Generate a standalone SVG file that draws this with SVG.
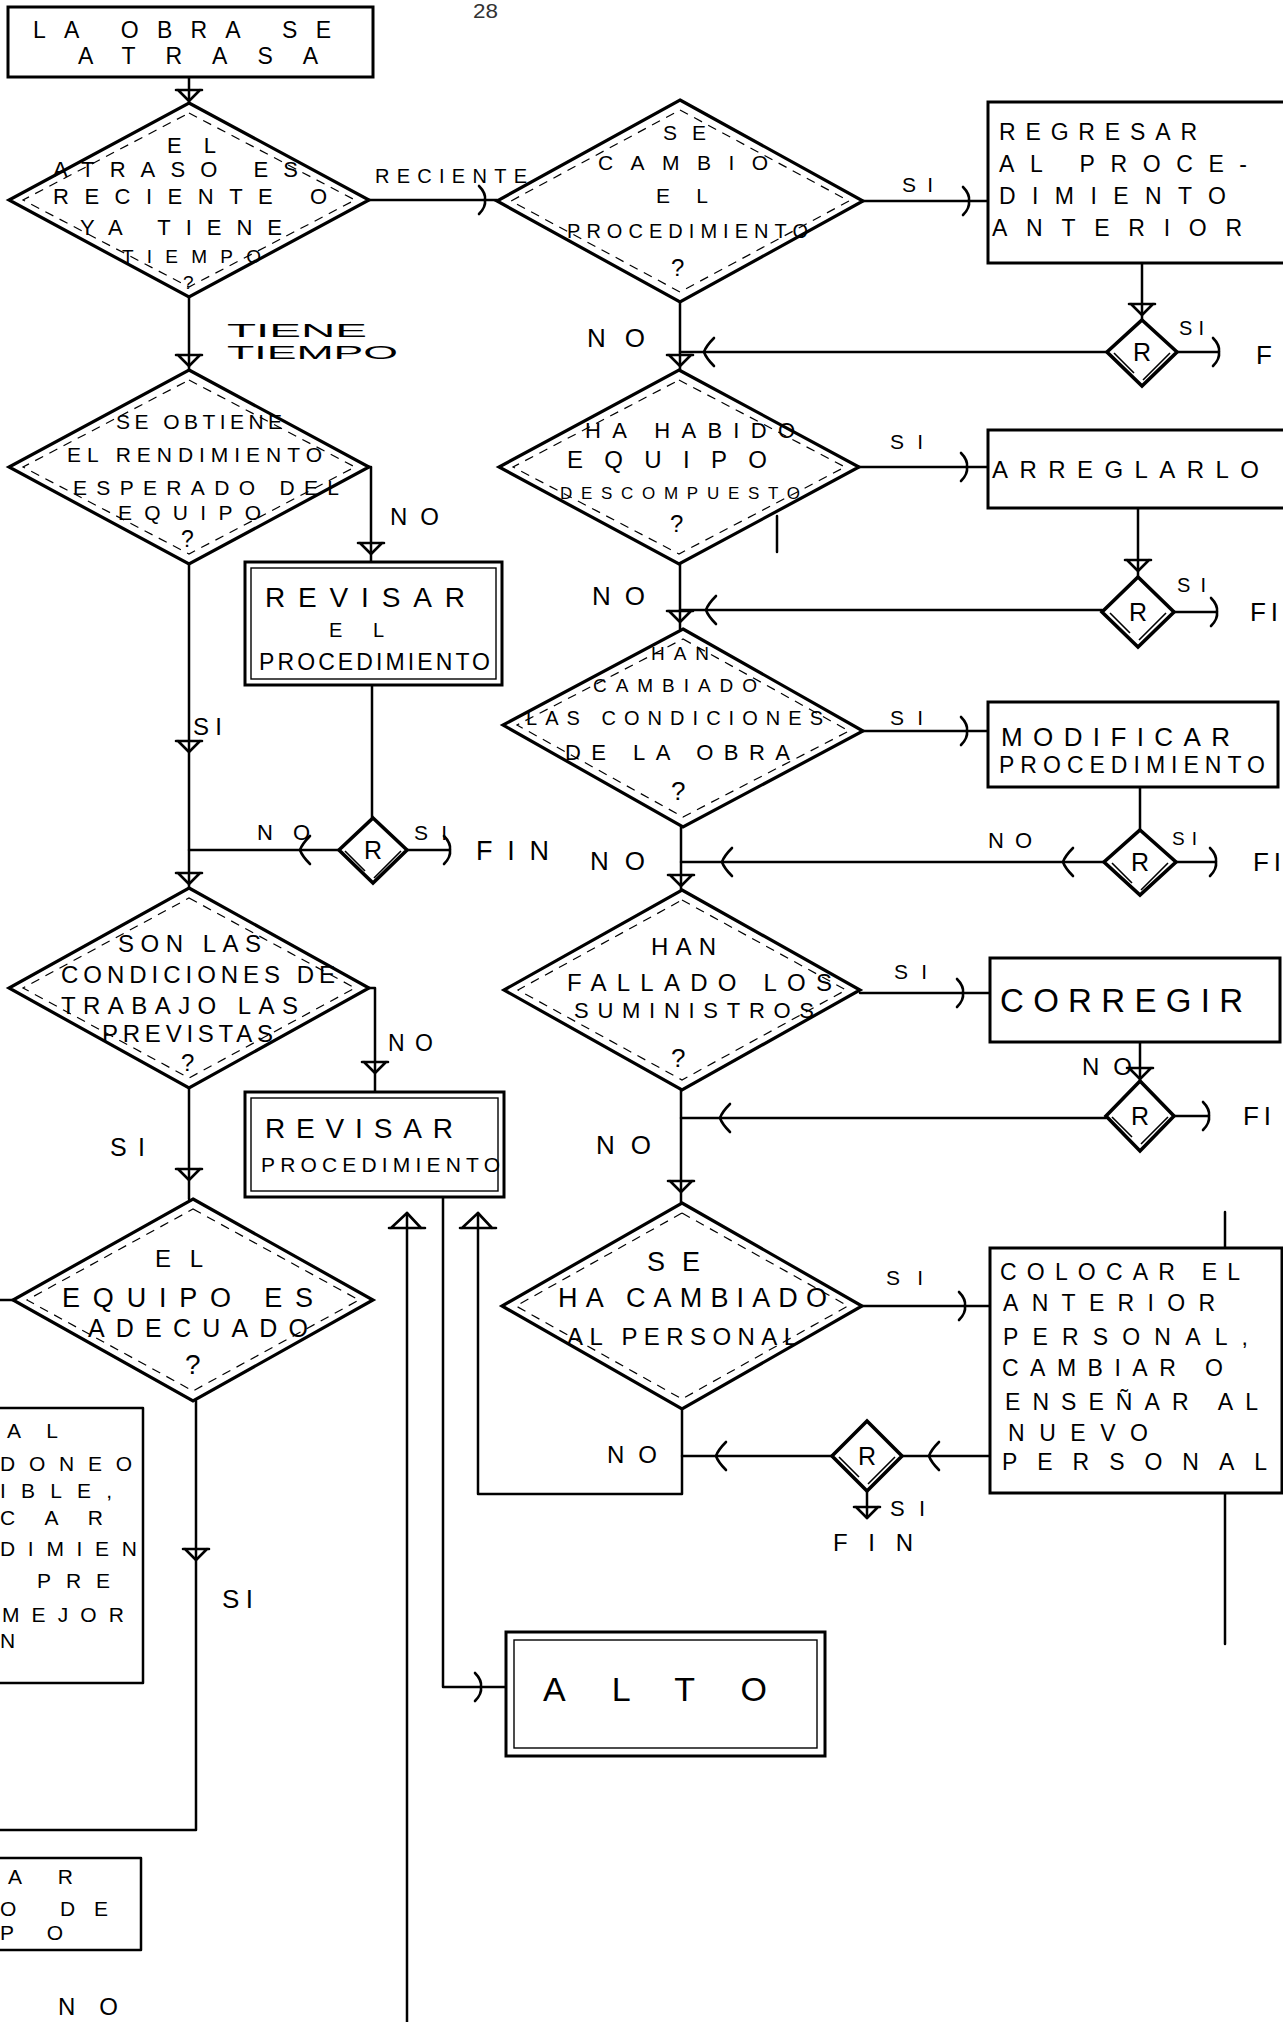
<svg xmlns="http://www.w3.org/2000/svg" width="1283" height="2022" viewBox="0 0 1283 2022">
  <style>
    .ln { stroke:#000; stroke-width:2.5; fill:none; stroke-linecap:round; stroke-linejoin:round; }
    .ah { stroke:#000; stroke-width:2.6; fill:none; stroke-linecap:round; stroke-linejoin:round; }
    .dia { stroke:#000; stroke-width:3.2; fill:#fff; stroke-linejoin:miter; }
    .dia-in { stroke:#000; stroke-width:1.2; fill:none; stroke-dasharray:9 7; }
    .rd { stroke:#000; stroke-width:3.6; fill:#fff; }
    .rd-in { stroke:#000; stroke-width:1.6; fill:none; }
    .box { stroke:#000; stroke-width:3; fill:#fff; }
    .box-in { stroke:#000; stroke-width:1.4; fill:none; }
    .t { font-family:"Liberation Sans", Arial, sans-serif; fill:#000; }
    .num { font-family:"Liberation Sans", Arial, sans-serif; fill:#333; }
  </style>
  <defs>
    <path id="ah-d" class="ah" d="M-13,-11 L13,-11 M-11,-11 L0,0 L11,-11"/>
    <path id="ah-u" class="ah" d="M-18,15 L18,15 M-16,15 L0,0 L14,15"/>
    <path id="ah-r" class="ah" d="M-5,-14 Q2,-7 1,0 Q2,7 -5,14"/>
    <path id="ah-l" class="ah" d="M10,-14 Q2,-6 0,0 Q2,6 10,14"/>
    <!-- second stroke along the lower edges of the small R diamonds -->
    <path id="rd-edge" class="rd-in" d="M28,1 L1,28 M-28,1 L-8,21"/>
  </defs>
  <rect width="1283" height="2022" fill="#fff"/>

  <text class="num" x="473" y="18" font-size="20" textLength="25" lengthAdjust="spacingAndGlyphs">28</text>

  <!-- connectors -->
  <g id="connectors">
    <path class="ln" d="M189,77 V103"/>
    <use href="#ah-d" x="189" y="101"/>
    <path class="ln" d="M369,200 H497"/>
    <use href="#ah-r" x="484" y="200"/>
    <path class="ln" d="M189,297 V370"/>
    <use href="#ah-d" x="189" y="366"/>
    <path class="ln" d="M369,467 H371 V562"/>
    <use href="#ah-d" x="371" y="554"/>
    <path class="ln" d="M372,685 V818"/>
    <path class="ln" d="M339,850 H189"/>
    <use href="#ah-l" x="300" y="850"/>
    <path class="ln" d="M407,850 H449"/>
    <use href="#ah-r" x="449" y="850"/>
    <path class="ln" d="M189,564 V888"/>
    <use href="#ah-d" x="189" y="752"/>
    <use href="#ah-d" x="189" y="884"/>
    <path class="ln" d="M369,988 H375 V1092"/>
    <use href="#ah-d" x="375" y="1073"/>
    <path class="ln" d="M189,1088 V1199"/>
    <use href="#ah-d" x="189" y="1180"/>
    <path class="ln" d="M196,1401 V1830 H0"/>
    <use href="#ah-d" x="196" y="1560"/>
    <path class="ln" d="M13,1300 H0"/>

    <path class="ln" d="M680,302 V370"/>
    <use href="#ah-d" x="680" y="366"/>
    <path class="ln" d="M1107,352 H680"/>
    <use href="#ah-l" x="704" y="352"/>
    <path class="ln" d="M863,201 H988"/>
    <use href="#ah-r" x="968" y="201"/>
    <path class="ln" d="M1142,263 V320"/>
    <use href="#ah-d" x="1142" y="315"/>
    <path class="ln" d="M1177,352 H1218"/>
    <use href="#ah-r" x="1218" y="352"/>

    <path class="ln" d="M859,467 H988"/>
    <use href="#ah-r" x="966" y="467"/>
    <path class="ln" d="M1138,508 V577"/>
    <use href="#ah-d" x="1138" y="571"/>
    <path class="ln" d="M1174,612 H1216"/>
    <use href="#ah-r" x="1216" y="612"/>
    <path class="ln" d="M1102,610 H680"/>
    <use href="#ah-l" x="706" y="610"/>
    <path class="ln" d="M680,564 V629"/>
    <use href="#ah-d" x="680" y="622"/>

    <path class="ln" d="M863,731 H988"/>
    <use href="#ah-r" x="966" y="731"/>
    <path class="ln" d="M1140,787 V830"/>
    <path class="ln" d="M1176,862 H1215"/>
    <use href="#ah-r" x="1215" y="862"/>
    <path class="ln" d="M1104,862 H681"/>
    <use href="#ah-l" x="1063" y="862"/>
    <use href="#ah-l" x="722" y="862"/>
    <path class="ln" d="M681,827 V890"/>
    <use href="#ah-d" x="681" y="886"/>

    <path class="ln" d="M860,993 H990"/>
    <use href="#ah-r" x="962" y="993"/>
    <path class="ln" d="M1140,1042 V1081"/>
    <use href="#ah-d" x="1140" y="1079"/>
    <path class="ln" d="M1174,1116 H1208"/>
    <use href="#ah-r" x="1208" y="1116"/>
    <path class="ln" d="M1106,1118 H681"/>
    <use href="#ah-l" x="720" y="1118"/>
    <path class="ln" d="M681,1090 V1203"/>
    <use href="#ah-d" x="681" y="1192"/>

    <path class="ln" d="M862,1306 H990"/>
    <use href="#ah-r" x="964" y="1306"/>
    <path class="ln" d="M990,1456 H902"/>
    <use href="#ah-l" x="929" y="1456"/>
    <path class="ln" d="M867,1491 V1518"/>
    <use href="#ah-d" x="867" y="1518"/>
    <path class="ln" d="M832,1456 H682"/>
    <use href="#ah-l" x="716" y="1456"/>
    <path class="ln" d="M682,1409 V1494 H478 V1213"/>
    <use href="#ah-u" x="478" y="1213"/>
    <path class="ln" d="M407,2022 V1213"/>
    <use href="#ah-u" x="407" y="1213"/>
    <path class="ln" d="M443,1197 V1687 H506"/>
    <use href="#ah-r" x="480" y="1687"/>

    <path class="ln" d="M1225,1212 V1644"/>
    <path class="ln" d="M777,516 V552"/>
  </g>

  <!-- left column -->
  <g id="n-start">
    <rect class="box" x="8" y="7" width="365" height="70"/>
    <text class="t" x="33" y="38" font-size="23" textLength="298" lengthAdjust="spacing">LA OBRA SE</text>
    <text class="t" x="78" y="64" font-size="23" textLength="240" lengthAdjust="spacing">ATRASA</text>
  </g>

  <g id="n-atraso">
    <polygon class="dia" points="189,103 369,200 189,297 9,200"/>
    <polygon class="dia-in" points="189,113 355,200 189,287 23,200"/>
    <text class="t" x="167" y="153" font-size="22" textLength="49" lengthAdjust="spacing">EL</text>
    <text class="t" x="53" y="177" font-size="22" textLength="245" lengthAdjust="spacing">ATRASO ES</text>
    <text class="t" x="53" y="204" font-size="22" textLength="274" lengthAdjust="spacing">RECIENTE O</text>
    <text class="t" x="80" y="235" font-size="22" textLength="202" lengthAdjust="spacing">YA TIENE</text>
    <text class="t" x="122" y="263" font-size="19" textLength="139" lengthAdjust="spacing">TIEMPO</text>
    <text class="t" x="183" y="289" font-size="19">?</text>
  </g>
  <text class="t" x="375" y="183" font-size="20" textLength="152" lengthAdjust="spacing">RECIENTE</text>
  <text class="t" x="227" y="337" font-size="19" textLength="140" lengthAdjust="spacingAndGlyphs">TIENE</text>
  <text class="t" x="227" y="359" font-size="19" textLength="171" lengthAdjust="spacingAndGlyphs">TIEMPO</text>

  <g id="n-rendimiento">
    <polygon class="dia" points="189,370 369,467 189,564 9,467"/>
    <polygon class="dia-in" points="189,380 355,467 189,554 23,467"/>
    <text class="t" x="116" y="429" font-size="21" textLength="166" lengthAdjust="spacing">SE OBTIENE</text>
    <text class="t" x="67" y="462" font-size="21" textLength="255" lengthAdjust="spacing">EL RENDIMIENTO</text>
    <text class="t" x="73" y="495" font-size="21" textLength="266" lengthAdjust="spacing">ESPERADO DEL</text>
    <text class="t" x="118" y="520" font-size="21" textLength="143" lengthAdjust="spacing">EQUIPO</text>
    <text class="t" x="181" y="547" font-size="23">?</text>
  </g>
  <text class="t" x="390" y="525" font-size="24" textLength="49" lengthAdjust="spacing">NO</text>

  <g id="n-revisar-1">
    <rect class="box" x="245" y="562" width="257" height="123"/>
    <rect class="box-in" x="251" y="568" width="245" height="111"/>
    <text class="t" x="265" y="607" font-size="28" textLength="200" lengthAdjust="spacing">REVISAR</text>
    <text class="t" x="329" y="637" font-size="20" textLength="55" lengthAdjust="spacing">EL</text>
    <text class="t" x="259" y="670" font-size="23" textLength="231" lengthAdjust="spacing">PROCEDIMIENTO</text>
  </g>

  <g id="n-r1">
    <polygon class="rd" points="373,818 407,850 373,883 339,850"/>
    <use href="#rd-edge" x="373" y="850"/>
    <text class="t" x="373" y="859" font-size="25" text-anchor="middle">R</text>
  </g>
  <text class="t" x="257" y="840" font-size="22" textLength="53" lengthAdjust="spacing">NO</text>
  <text class="t" x="414" y="840" font-size="21" textLength="33" lengthAdjust="spacing">SI</text>
  <text class="t" x="476" y="860" font-size="27" textLength="73" lengthAdjust="spacing">FIN</text>
  <text class="t" x="193" y="735" font-size="24" textLength="29" lengthAdjust="spacing">SI</text>

  <g id="n-condiciones">
    <polygon class="dia" points="189,888 369,988 189,1088 9,988"/>
    <polygon class="dia-in" points="189,898 355,988 189,1078 23,988"/>
    <text class="t" x="118" y="952" font-size="24" textLength="143" lengthAdjust="spacing">SON LAS</text>
    <text class="t" x="61" y="983" font-size="24" textLength="274" lengthAdjust="spacing">CONDICIONES DE</text>
    <text class="t" x="61" y="1014" font-size="24" textLength="237" lengthAdjust="spacing">TRABAJO LAS</text>
    <text class="t" x="102" y="1042" font-size="24" textLength="171" lengthAdjust="spacing">PREVISTAS</text>
    <text class="t" x="181" y="1071" font-size="24">?</text>
  </g>
  <text class="t" x="388" y="1051" font-size="23" textLength="45" lengthAdjust="spacing">NO</text>

  <g id="n-revisar-2">
    <rect class="box" x="245" y="1092" width="259" height="105"/>
    <rect class="box-in" x="251" y="1098" width="247" height="93"/>
    <text class="t" x="265" y="1138" font-size="28" textLength="188" lengthAdjust="spacing">REVISAR</text>
    <text class="t" x="261" y="1172" font-size="21" textLength="239" lengthAdjust="spacing">PROCEDIMIENTO</text>
  </g>
  <text class="t" x="110" y="1156" font-size="25" textLength="35" lengthAdjust="spacing">SI</text>

  <g id="n-equipo">
    <polygon class="dia" points="193,1199 373,1300 193,1401 13,1300"/>
    <polygon class="dia-in" points="193,1209 359,1300 193,1391 27,1300"/>
    <text class="t" x="155" y="1267" font-size="24" textLength="48" lengthAdjust="spacing">EL</text>
    <text class="t" x="62" y="1307" font-size="27" textLength="251" lengthAdjust="spacing">EQUIPO ES</text>
    <text class="t" x="88" y="1337" font-size="25" textLength="220" lengthAdjust="spacing">ADECUADO</text>
    <text class="t" x="185" y="1374" font-size="28">?</text>
  </g>
  <text class="t" x="222" y="1608" font-size="26" textLength="31" lengthAdjust="spacing">SI</text>

  <g id="n-left-a">
    <path class="ln" d="M-5,1408 H143 V1683 H-5"/>
    <text class="t" x="7" y="1438" font-size="21" textLength="51" lengthAdjust="spacing">AL</text>
    <text class="t" x="0" y="1471" font-size="21" textLength="132" lengthAdjust="spacing">DONEO</text>
    <text class="t" x="0" y="1498" font-size="21" textLength="112" lengthAdjust="spacing">IBLE,</text>
    <text class="t" x="0" y="1525" font-size="21" textLength="103" lengthAdjust="spacing">CAR</text>
    <text class="t" x="0" y="1556" font-size="21" textLength="137" lengthAdjust="spacing">DIMIEN</text>
    <text class="t" x="37" y="1588" font-size="21" textLength="73" lengthAdjust="spacing">PRE</text>
    <text class="t" x="2" y="1622" font-size="21" textLength="122" lengthAdjust="spacing">MEJOR</text>
    <text class="t" x="0" y="1648" font-size="21">N</text>
  </g>
  <g id="n-left-b">
    <path class="ln" d="M-5,1858 H141 V1950 H-5"/>
    <text class="t" x="8" y="1884" font-size="21" textLength="65" lengthAdjust="spacing">AR</text>
    <text class="t" x="0" y="1916" font-size="21" textLength="108" lengthAdjust="spacing">O DE</text>
    <text class="t" x="0" y="1940" font-size="21" textLength="63" lengthAdjust="spacing">PO</text>
  </g>
  <text class="t" x="58" y="2015" font-size="24" textLength="60" lengthAdjust="spacing">NO</text>

  <!-- middle column -->
  <g id="n-cambio">
    <polygon class="dia" points="680,100 863,201 680,302 497,201"/>
    <polygon class="dia-in" points="680,110 849,201 680,292 511,201"/>
    <text class="t" x="663" y="140" font-size="21" textLength="43" lengthAdjust="spacing">SE</text>
    <text class="t" x="598" y="170" font-size="21" textLength="170" lengthAdjust="spacing">CAMBIO</text>
    <text class="t" x="656" y="203" font-size="21" textLength="52" lengthAdjust="spacing">EL</text>
    <text class="t" x="567" y="238" font-size="20" textLength="241" lengthAdjust="spacing">PROCEDIMIENTO</text>
    <text class="t" x="671" y="276" font-size="24">?</text>
  </g>
  <text class="t" x="902" y="192" font-size="21" textLength="31" lengthAdjust="spacing">SI</text>
  <text class="t" x="587" y="347" font-size="26" textLength="58" lengthAdjust="spacing">NO</text>

  <g id="n-descompuesto">
    <polygon class="dia" points="679,370 859,467 679,564 499,467"/>
    <polygon class="dia-in" points="679,380 845,467 679,554 513,467"/>
    <text class="t" x="585" y="438" font-size="22" textLength="210" lengthAdjust="spacing">HA HABIDO</text>
    <text class="t" x="567" y="468" font-size="24" textLength="200" lengthAdjust="spacing">EQUIPO</text>
    <text class="t" x="560" y="499" font-size="17" textLength="240" lengthAdjust="spacing">DESCOMPUESTO</text>
    <text class="t" x="670" y="532" font-size="24">?</text>
  </g>
  <text class="t" x="890" y="449" font-size="21" textLength="33" lengthAdjust="spacing">SI</text>
  <text class="t" x="592" y="605" font-size="26" textLength="53" lengthAdjust="spacing">NO</text>

  <g id="n-obra">
    <polygon class="dia" points="683,629 863,731 683,827 503,725"/>
    <polygon class="dia-in" points="683,639 849,731 683,817 517,725"/>
    <text class="t" x="651" y="660" font-size="19" textLength="58" lengthAdjust="spacing">HAN</text>
    <text class="t" x="593" y="692" font-size="19" textLength="164" lengthAdjust="spacing">CAMBIADO</text>
    <text class="t" x="526" y="725" font-size="20" textLength="297" lengthAdjust="spacing">LAS CONDICIONES</text>
    <text class="t" x="565" y="760" font-size="22" textLength="225" lengthAdjust="spacing">DE LA OBRA</text>
    <text class="t" x="671" y="800" font-size="26">?</text>
  </g>
  <text class="t" x="890" y="725" font-size="21" textLength="33" lengthAdjust="spacing">SI</text>
  <text class="t" x="590" y="870" font-size="26" textLength="55" lengthAdjust="spacing">NO</text>
  <text class="t" x="988" y="848" font-size="22" textLength="44" lengthAdjust="spacing">NO</text>

  <g id="n-suministros">
    <polygon class="dia" points="682,890 860,990 682,1090 504,990"/>
    <polygon class="dia-in" points="682,900 846,990 682,1080 518,990"/>
    <text class="t" x="651" y="955" font-size="24" textLength="65" lengthAdjust="spacing">HAN</text>
    <text class="t" x="567" y="991" font-size="24" textLength="265" lengthAdjust="spacing">FALLADO LOS</text>
    <text class="t" x="574" y="1018" font-size="22" textLength="240" lengthAdjust="spacing">SUMINISTROS</text>
    <text class="t" x="671" y="1067" font-size="26">?</text>
  </g>
  <text class="t" x="894" y="979" font-size="21" textLength="33" lengthAdjust="spacing">SI</text>
  <text class="t" x="596" y="1154" font-size="26" textLength="55" lengthAdjust="spacing">NO</text>

  <g id="n-personal">
    <polygon class="dia" points="682,1203 862,1306 682,1409 502,1306"/>
    <polygon class="dia-in" points="682,1213 848,1306 682,1399 516,1306"/>
    <text class="t" x="647" y="1271" font-size="27" textLength="53" lengthAdjust="spacing">SE</text>
    <text class="t" x="558" y="1307" font-size="27" textLength="269" lengthAdjust="spacing">HA CAMBIADO</text>
    <text class="t" x="567" y="1345" font-size="24" textLength="230" lengthAdjust="spacing">AL PERSONAL</text>
  </g>
  <text class="t" x="886" y="1285" font-size="21" textLength="37" lengthAdjust="spacing">SI</text>
  <text class="t" x="607" y="1463" font-size="24" textLength="50" lengthAdjust="spacing">NO</text>

  <g id="n-r6">
    <polygon class="rd" points="867,1421 902,1456 867,1491 832,1456"/>
    <use href="#rd-edge" x="867" y="1456"/>
    <text class="t" x="867" y="1465" font-size="25" text-anchor="middle">R</text>
  </g>
  <text class="t" x="890" y="1516" font-size="22" textLength="35" lengthAdjust="spacing">SI</text>
  <text class="t" x="833" y="1551" font-size="24" textLength="80" lengthAdjust="spacing">FIN</text>

  <g id="n-alto">
    <rect class="box" x="506" y="1632" width="319" height="124"/>
    <rect class="box-in" x="514" y="1640" width="303" height="108"/>
    <text class="t" x="543" y="1701" font-size="34" textLength="224" lengthAdjust="spacing">ALTO</text>
  </g>

  <!-- right column -->
  <g id="n-regresar">
    <rect class="box" x="988" y="102" width="320" height="161"/>
    <text class="t" x="999" y="140" font-size="23" textLength="198" lengthAdjust="spacing">REGRESAR</text>
    <text class="t" x="999" y="172" font-size="23" textLength="248" lengthAdjust="spacing">AL PROCE-</text>
    <text class="t" x="999" y="204" font-size="23" textLength="227" lengthAdjust="spacing">DIMIENTO</text>
    <text class="t" x="992" y="236" font-size="23" textLength="250" lengthAdjust="spacing">ANTERIOR</text>
  </g>
  <g id="n-r2">
    <polygon class="rd" points="1142,320 1177,352 1142,386 1107,352"/>
    <use href="#rd-edge" x="1142" y="352"/>
    <text class="t" x="1142" y="361" font-size="25" text-anchor="middle">R</text>
  </g>
  <text class="t" x="1179" y="335" font-size="20" textLength="25" lengthAdjust="spacing">SI</text>
  <text class="t" x="1256" y="364" font-size="26">F</text>

  <g id="n-arreglarlo">
    <rect class="box" x="988" y="430" width="320" height="78"/>
    <text class="t" x="992" y="478" font-size="24" textLength="267" lengthAdjust="spacing">ARREGLARLO</text>
  </g>
  <g id="n-r3">
    <polygon class="rd" points="1138,577 1174,612 1138,647 1102,612"/>
    <use href="#rd-edge" x="1138" y="612"/>
    <text class="t" x="1138" y="621" font-size="25" text-anchor="middle">R</text>
  </g>
  <text class="t" x="1177" y="592" font-size="20" textLength="29" lengthAdjust="spacing">SI</text>
  <text class="t" x="1250" y="621" font-size="26" textLength="28" lengthAdjust="spacing">FI</text>

  <g id="n-modificar">
    <rect class="box" x="988" y="702" width="290" height="85"/>
    <text class="t" x="1001" y="746" font-size="26" textLength="229" lengthAdjust="spacing">MODIFICAR</text>
    <text class="t" x="999" y="773" font-size="23" textLength="266" lengthAdjust="spacing">PROCEDIMIENTO</text>
  </g>
  <g id="n-r4">
    <polygon class="rd" points="1140,830 1176,862 1140,895 1104,862"/>
    <use href="#rd-edge" x="1140" y="862"/>
    <text class="t" x="1140" y="871" font-size="25" text-anchor="middle">R</text>
  </g>
  <text class="t" x="1172" y="845" font-size="19" textLength="25" lengthAdjust="spacing">SI</text>
  <text class="t" x="1253" y="871" font-size="26" textLength="28" lengthAdjust="spacing">FI</text>

  <g id="n-corregir">
    <rect class="box" x="990" y="958" width="290" height="84"/>
    <text class="t" x="1000" y="1012" font-size="33" textLength="243" lengthAdjust="spacing">CORREGIR</text>
  </g>
  <text class="t" x="1082" y="1075" font-size="24" textLength="50" lengthAdjust="spacing">NO</text>
  <g id="n-r5">
    <polygon class="rd" points="1140,1081 1174,1116 1140,1151 1106,1116"/>
    <use href="#rd-edge" x="1140" y="1116"/>
    <text class="t" x="1140" y="1125" font-size="25" text-anchor="middle">R</text>
  </g>
  <text class="t" x="1243" y="1125" font-size="26" textLength="28" lengthAdjust="spacing">FI</text>

  <g id="n-colocar">
    <rect class="box" x="990" y="1248" width="292" height="245" fill="none"/>
    <text class="t" x="1000" y="1280" font-size="23" textLength="240" lengthAdjust="spacing">COLOCAR EL</text>
    <text class="t" x="1003" y="1311" font-size="23" textLength="212" lengthAdjust="spacing">ANTERIOR</text>
    <text class="t" x="1003" y="1345" font-size="23" textLength="245" lengthAdjust="spacing">PERSONAL,</text>
    <text class="t" x="1002" y="1376" font-size="23" textLength="221" lengthAdjust="spacing">CAMBIAR O</text>
    <text class="t" x="1005" y="1410" font-size="23" textLength="253" lengthAdjust="spacing">ENSEÑAR AL</text>
    <text class="t" x="1008" y="1441" font-size="23" textLength="140" lengthAdjust="spacing">NUEVO</text>
    <text class="t" x="1002" y="1470" font-size="23" textLength="265" lengthAdjust="spacing">PERSONAL</text>
  </g>
</svg>
